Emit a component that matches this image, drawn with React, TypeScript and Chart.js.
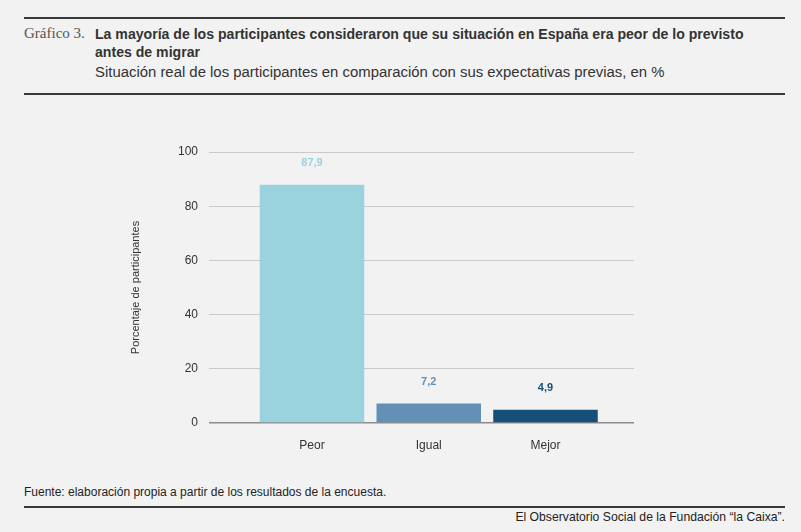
import React, { useEffect, useRef } from 'react';
import { Chart, registerables } from 'chart.js';

Chart.register(...registerables);

const categories = ['Peor', 'Igual', 'Mejor'];
const values = [87.9, 7.2, 4.9];
const barColors = ['#9ad3de', '#6490b5', '#154f7a'];
const yTicks = [0, 20, 40, 60, 80, 100];

const sans = '"Liberation Sans", Arial, sans-serif';

const valueLabels = {
  id: 'valueLabels',
  afterDatasetsDraw(chart: any) {
    const { ctx } = chart;
    const meta = chart.getDatasetMeta(0);
    ctx.save();
    ctx.font = `bold 11px ${sans}`;
    ctx.textAlign = 'center';
    ctx.textBaseline = 'middle';
    meta.data.forEach((bar: any, i: number) => {
      ctx.fillStyle = barColors[i];
      ctx.fillText(values[i].toFixed(1).replace('.', ','), bar.x, bar.y - 22);
    });
    ctx.restore();
  }
};

export default function App() {
  const canvasRef = useRef<HTMLCanvasElement | null>(null);

  useEffect(() => {
    document.body.style.margin = '0';
    const ctx = canvasRef.current?.getContext('2d');
    if (!ctx) return;
    const chart = new Chart(ctx, {
      type: 'bar',
      data: {
        datasets: [{
          data: values.map((v, i) => ({ x: i, y: v })),
          backgroundColor: barColors,
          borderWidth: 0,
          barPercentage: 0.895,
          categoryPercentage: 1
        }]
      },
      options: {
        responsive: false,
        animation: false,
        layout: { padding: { left: 125, right: 167, top: 52, bottom: 0 } },
        plugins: { legend: { display: false }, tooltip: { enabled: false } },
        scales: {
          x: {
            type: 'linear',
            offset: false,
            min: -0.882,
            max: 2.758,
            afterBuildTicks: (s: any) => { s.ticks = categories.map((_, i) => ({ value: i })); },
            afterFit: (s: any) => { s.height = 47; },
            grid: { display: false },
            border: { display: false },
            ticks: {
              padding: 7,
              color: '#333',
              font: { family: sans, size: 12 },
              callback: (v: any) => categories[v] ?? ''
            }
          },
          y: {
            min: 0,
            max: 100,
            afterBuildTicks: (s: any) => { s.ticks = yTicks.map(v => ({ value: v })); },
            afterFit: (s: any) => { s.width = 84; },
            border: { display: false },
            grid: {
              drawTicks: false,
              color: (c: any) => (c.tick && c.tick.value === 0 ? '#8c8c8c' : '#cacaca'),
              lineWidth: (c: any) => (c.tick && c.tick.value === 0 ? 1.5 : 1)
            },
            ticks: { padding: 11, color: '#333', font: { family: sans, size: 12 } },
            title: {
              display: true,
              text: 'Porcentaje de participantes',
              color: '#333',
              font: { family: sans, size: 11 },
              padding: { top: 4, bottom: 0 }
            }
          }
        }
      },
      plugins: [valueLabels]
    });
    return () => chart.destroy();
  }, []);

  const rule = (top: number) => (
    <div style={{ position: 'absolute', left: 24, width: 761, top, height: 0, borderTop: '2px solid #3a3a3a', zIndex: 2 }} />
  );

  return (
    <div style={{ position: 'relative', width: 801, height: 532, background: '#f2f2f2', fontFamily: sans, color: '#333', overflow: 'hidden' }}>
      {rule(17)}
      <div style={{ position: 'absolute', left: 24, top: 25, fontFamily: '"Liberation Serif", "DejaVu Serif", serif', fontSize: 15, color: '#555' }}>
        Gráfico 3.
      </div>
      <div style={{ position: 'absolute', left: 95, top: 25, width: 680, fontSize: 14.1, fontWeight: 'bold', lineHeight: '18px', color: '#333' }}>
        La mayoría de los participantes consideraron que su situación en España era peor de lo previsto antes de migrar
      </div>
      <div style={{ position: 'absolute', left: 95, top: 64, fontSize: 14.9, color: '#333' }}>
        Situación real de los participantes en comparación con sus expectativas previas, en %
      </div>
      {rule(93)}
      <canvas ref={canvasRef} width={801} height={370} style={{ position: 'absolute', left: 0, top: 100, width: 801, height: 370 }} />
      <div style={{ position: 'absolute', left: 24, top: 485, fontSize: 12, color: '#222' }}>
        Fuente: elaboración propia a partir de los resultados de la encuesta.
      </div>
      {rule(506)}
      <div style={{ position: 'absolute', right: 16, top: 510, fontSize: 12.2, color: '#222' }}>
        El Observatorio Social de la Fundación “la Caixa”.
      </div>
    </div>
  );
}
